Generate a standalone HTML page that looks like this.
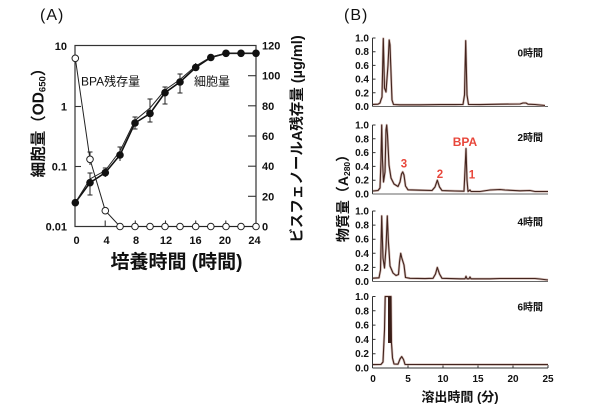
<!DOCTYPE html>
<html>
<head>
<meta charset="utf-8">
<style>
  html, body { margin:0; padding:0; background:#fff; }
  body { width:610px; height:410px; overflow:hidden; }
  svg { display:block; }
  text { font-family: "Liberation Sans", "Noto Sans CJK JP", sans-serif; fill:#111; }
  .tk { font-size:11px; font-weight:bold; }
  .tkb { font-size:10px; font-weight:bold; }
</style>
</head>
<body>
<svg width="610" height="410" viewBox="0 0 610 410" xmlns="http://www.w3.org/2000/svg">
  <rect x="0" y="0" width="610" height="410" fill="#fff"/>

  <!-- ================= Panel A ================= -->
  <text x="40" y="20" font-size="16" letter-spacing="1">(A)</text>

  <rect x="75" y="45.5" width="181" height="181" fill="none" stroke="#333" stroke-width="1.2"/>

  <g stroke="#333" stroke-width="1.1">
    <line x1="75" y1="106.5" x2="81" y2="106.5"/>
    <line x1="75" y1="166.5" x2="81" y2="166.5"/>
    <line x1="256" y1="196.3" x2="248" y2="196.3"/>
    <line x1="256" y1="166.2" x2="248" y2="166.2"/>
    <line x1="256" y1="136" x2="248" y2="136"/>
    <line x1="256" y1="105.8" x2="248" y2="105.8"/>
    <line x1="256" y1="75.7" x2="248" y2="75.7"/>
    <line x1="105.2" y1="226.5" x2="105.2" y2="220.5"/>
    <line x1="135.3" y1="226.5" x2="135.3" y2="220.5"/>
    <line x1="165.5" y1="226.5" x2="165.5" y2="220.5"/>
    <line x1="195.7" y1="226.5" x2="195.7" y2="220.5"/>
    <line x1="225.8" y1="226.5" x2="225.8" y2="220.5"/>
  </g>

  <g text-anchor="end">
    <text class="tk" x="67" y="50" text-anchor="end">10</text>
    <text class="tk" x="67" y="110.5" text-anchor="end">1</text>
    <text class="tk" x="67" y="170.5" text-anchor="end">0.1</text>
    <text class="tk" x="67" y="230.5" text-anchor="end">0.01</text>
  </g>
  <g>
    <text class="tk" x="262" y="49.5">120</text>
    <text class="tk" x="262" y="79.7">100</text>
    <text class="tk" x="262" y="109.8">80</text>
    <text class="tk" x="262" y="140">60</text>
    <text class="tk" x="262" y="170.2">40</text>
    <text class="tk" x="262" y="200.3">20</text>
    <text class="tk" x="262" y="230.5">0</text>
  </g>
  <g>
    <text class="tk" x="76.5" y="244" text-anchor="middle">0</text>
    <text class="tk" x="106.5" y="244" text-anchor="middle">4</text>
    <text class="tk" x="136" y="244" text-anchor="middle">8</text>
    <text class="tk" x="166" y="244" text-anchor="middle">12</text>
    <text class="tk" x="195.5" y="244" text-anchor="middle">16</text>
    <text class="tk" x="225" y="244" text-anchor="middle">20</text>
    <text class="tk" x="254.5" y="244" text-anchor="middle">24</text>
  </g>

  <text x="176.5" y="268" font-size="19" font-weight="bold" text-anchor="middle">培養時間 (時間)</text>
  <text transform="rotate(-90 38 119)" x="38" y="124.5" font-size="15.5" font-weight="bold" text-anchor="middle">細胞量（OD<tspan font-size="9.5" dy="2">650</tspan><tspan dy="-2">）</tspan></text>
  <text transform="rotate(-90 297 139)" x="297" y="144" font-size="14.5" font-weight="bold" text-anchor="middle">ビスフェノールA残存量 (µg/ml)</text>

  <text x="81" y="85.5" font-size="12">BPA残存量</text>
  <text x="194" y="85.5" font-size="12">細胞量</text>

  <polyline fill="none" stroke="#111" stroke-width="1.6" points="75.3,202.7 90,182.7 105.3,172.7 120,155 135,123 150,113.5 165,92.7 180,82 195.7,67.5 210.8,57.5 226,53.3 241,53.3 256,53.3"/>
  <polyline fill="none" stroke="#222" stroke-width="1" points="75.3,202.7 90,179 105.3,170.5 120,151 135,120.5 150,108 165,90 180,79.5 195.7,66 210.8,57 226,53.3 241,53.3 256,53.3"/>

  <g stroke="#222" stroke-width="1">
    <line x1="90" y1="173" x2="90" y2="195"/><line x1="87.5" y1="173" x2="92.5" y2="173"/><line x1="87.5" y1="195" x2="92.5" y2="195"/>
    <line x1="105.3" y1="168" x2="105.3" y2="177"/><line x1="102.8" y1="168" x2="107.8" y2="168"/>
    <line x1="120" y1="147" x2="120" y2="161"/><line x1="117.5" y1="147" x2="122.5" y2="147"/>
    <line x1="135" y1="117" x2="135" y2="129"/><line x1="132.5" y1="117" x2="137.5" y2="117"/><line x1="132.5" y1="129" x2="137.5" y2="129"/>
    <line x1="150" y1="99" x2="150" y2="122"/><line x1="147.5" y1="99" x2="152.5" y2="99"/><line x1="147.5" y1="122" x2="152.5" y2="122"/>
    <line x1="165" y1="87" x2="165" y2="104"/><line x1="162.5" y1="87" x2="167.5" y2="87"/><line x1="162.5" y1="104" x2="167.5" y2="104"/>
    <line x1="180" y1="74" x2="180" y2="93"/><line x1="177.5" y1="74" x2="182.5" y2="74"/><line x1="177.5" y1="93" x2="182.5" y2="93"/>
    <line x1="195.7" y1="63" x2="195.7" y2="71"/>
    <line x1="90" y1="152" x2="90" y2="165"/><line x1="87.5" y1="152" x2="92.5" y2="152"/>
  </g>

  <g fill="#111">
    <circle cx="75.3" cy="202.7" r="3.8"/>
    <circle cx="90" cy="182.7" r="3.8"/>
    <circle cx="105.3" cy="172.7" r="3.8"/>
    <circle cx="120" cy="155" r="3.8"/>
    <circle cx="135" cy="123" r="3.8"/>
    <circle cx="150" cy="113.5" r="3.8"/>
    <circle cx="165" cy="92.7" r="3.8"/>
    <circle cx="180" cy="82" r="3.8"/>
    <circle cx="195.7" cy="67.5" r="3.8"/>
    <circle cx="210.8" cy="57.5" r="3.8"/>
    <circle cx="226" cy="53.3" r="3.8"/>
    <circle cx="241" cy="53.3" r="3.8"/>
    <circle cx="256" cy="53.3" r="3.8"/>
  </g>

  <polyline fill="none" stroke="#222" stroke-width="1" points="75.3,58.3 90,159.3 105.3,210.7 120,226.5 256,226.5"/>
  <g fill="#fff" stroke="#222" stroke-width="1">
    <circle cx="75.3" cy="58.3" r="3.3"/>
    <circle cx="90" cy="159.3" r="3.3"/>
    <circle cx="105.3" cy="210.7" r="3.3"/>
    <circle cx="120" cy="226.5" r="3.3"/>
    <circle cx="135" cy="226.5" r="3.3"/>
    <circle cx="150" cy="226.5" r="3.3"/>
    <circle cx="165" cy="226.5" r="3.3"/>
    <circle cx="180" cy="226.5" r="3.3"/>
    <circle cx="195.7" cy="226.5" r="3.3"/>
    <circle cx="210.8" cy="226.5" r="3.3"/>
    <circle cx="226" cy="226.5" r="3.3"/>
    <circle cx="241" cy="226.5" r="3.3"/>
    <circle cx="256" cy="226.5" r="3.3"/>
  </g>

  <!-- ================= Panel B ================= -->
  <text x="344" y="20" font-size="16" letter-spacing="1">(B)</text>

  <g stroke="#333" stroke-width="1">
    <line x1="372.5" y1="38" x2="372.5" y2="106.5"/>
    <line x1="372.5" y1="106.5" x2="548" y2="106.5" stroke="#666"/>
    <line x1="372.5" y1="125" x2="372.5" y2="194"/>
    <line x1="372.5" y1="194" x2="548" y2="194" stroke="#666"/>
    <line x1="372.5" y1="211" x2="372.5" y2="281.5"/>
    <line x1="372.5" y1="281.5" x2="548" y2="281.5" stroke="#666"/>
    <line x1="372.5" y1="296.5" x2="372.5" y2="368"/>
    <line x1="372.5" y1="368" x2="548" y2="368"/>
  </g>
  <g stroke="#333" stroke-width="1">
    <path d="M372.5 38h3M372.5 51.7h3M372.5 65.4h3M372.5 79.1h3M372.5 92.8h3"/>
    <path d="M372.5 125h3M372.5 138.8h3M372.5 152.6h3M372.5 166.4h3M372.5 180.2h3"/>
    <path d="M372.5 211h3M372.5 225.1h3M372.5 239.2h3M372.5 253.3h3M372.5 267.4h3"/>
    <path d="M372.5 296.5h3M372.5 310.8h3M372.5 325.1h3M372.5 339.4h3M372.5 353.7h3"/>
    <path d="M408 368v-3M443 368v-3M478 368v-3M513 368v-3M548 368v-3"/>
  </g>

  <g>
    <text class="tkb" x="369" y="41.5" text-anchor="end">1.0</text>
    <text class="tkb" x="369" y="55.2" text-anchor="end">0.8</text>
    <text class="tkb" x="369" y="68.9" text-anchor="end">0.6</text>
    <text class="tkb" x="369" y="82.6" text-anchor="end">0.4</text>
    <text class="tkb" x="369" y="96.3" text-anchor="end">0.2</text>
    <text class="tkb" x="369" y="110" text-anchor="end">0.0</text>

    <text class="tkb" x="369" y="128.5" text-anchor="end">1.0</text>
    <text class="tkb" x="369" y="142.3" text-anchor="end">0.8</text>
    <text class="tkb" x="369" y="156.1" text-anchor="end">0.6</text>
    <text class="tkb" x="369" y="169.9" text-anchor="end">0.4</text>
    <text class="tkb" x="369" y="183.7" text-anchor="end">0.2</text>
    <text class="tkb" x="369" y="197.5" text-anchor="end">0.0</text>

    <text class="tkb" x="369" y="214.5" text-anchor="end">1.0</text>
    <text class="tkb" x="369" y="228.6" text-anchor="end">0.8</text>
    <text class="tkb" x="369" y="242.7" text-anchor="end">0.6</text>
    <text class="tkb" x="369" y="256.8" text-anchor="end">0.4</text>
    <text class="tkb" x="369" y="270.9" text-anchor="end">0.2</text>
    <text class="tkb" x="369" y="285" text-anchor="end">0.0</text>

    <text class="tkb" x="369" y="300" text-anchor="end">1.0</text>
    <text class="tkb" x="369" y="314.3" text-anchor="end">0.8</text>
    <text class="tkb" x="369" y="328.6" text-anchor="end">0.6</text>
    <text class="tkb" x="369" y="342.9" text-anchor="end">0.4</text>
    <text class="tkb" x="369" y="357.2" text-anchor="end">0.2</text>
    <text class="tkb" x="369" y="371.5" text-anchor="end">0.0</text>
  </g>
  <g>
    <text class="tkb" x="373" y="382" text-anchor="middle">0</text>
    <text class="tkb" x="408" y="382" text-anchor="middle">5</text>
    <text class="tkb" x="443" y="382" text-anchor="middle">10</text>
    <text class="tkb" x="478" y="382" text-anchor="middle">15</text>
    <text class="tkb" x="513" y="382" text-anchor="middle">20</text>
    <text class="tkb" x="548" y="382" text-anchor="middle">25</text>
  </g>

  <text x="460" y="401.5" font-size="13" font-weight="bold" text-anchor="middle">溶出時間 (分)</text>
  <text transform="rotate(-90 343 195)" x="343" y="200" font-size="14" font-weight="bold" text-anchor="middle">物質量（A<tspan font-size="8.5" dy="2">280</tspan><tspan dy="-2">）</tspan></text>

  <text x="543" y="56.5" text-anchor="end" font-size="10" font-weight="bold">0時間</text>
  <text x="543" y="141" text-anchor="end" font-size="10" font-weight="bold">2時間</text>
  <text x="543" y="225.5" text-anchor="end" font-size="10" font-weight="bold">4時間</text>
  <text x="543" y="310.5" text-anchor="end" font-size="10" font-weight="bold">6時間</text>

  <text x="465" y="146" font-size="12" font-weight="bold" text-anchor="middle" style="fill:#e8473b">BPA</text>
  <text x="404" y="167.5" font-size="11.5" font-weight="bold" text-anchor="middle" style="fill:#e8473b">3</text>
  <text x="440" y="178" font-size="11.5" font-weight="bold" text-anchor="middle" style="fill:#e8473b">2</text>
  <text x="472" y="178.5" font-size="11.5" font-weight="bold" text-anchor="middle" style="fill:#e8473b">1</text>

  <g fill="none" stroke="#c4a49c" stroke-width="2.4" stroke-linejoin="round" opacity="0.7">
    <polyline points="373,104.4 378,104.2 380,103 381,99.7 382,97 383.3,38.5 384.5,88 386,92 388,65 389.2,40 390,45 392,100 393.5,104.5 400,104.8 420,104.8 440,104.6 455,104.6 463,104.4 464.5,95 465.7,40.7 467,95 468.5,104.4 480,104.6 500,104.2 520,104 523,103 526,103 528,104.2 535,104.5 545,105.5"/>
    <polyline points="373,191 378,190.5 380,188 381,160 381.7,125 382.5,160 383.5,182 385,172 386,130 386.7,125 387.5,135 389,165 391,178 394,184 398,186.5 400,182 401.5,174 402.7,171.9 404,175 405.5,186 408,189.8 420,190.2 432,190.5 435,187 437.3,180.2 439.5,187 442,190.6 455,191 464,191.2 465,170 466,148.5 467,180 468,191.5 470,190 471,191.5 480,191.5 490,190 500,189.5 505,190 520,190.8 530,190.5 535,191.5 548,191.5"/>
    <polyline points="373,278.2 379,277.8 380.5,270 381.7,215.9 383,258 384.5,268 386,248 387.3,215.9 388.3,240 390,266 393,273 396,275.5 398.5,274.5 399.5,262 400.7,253.3 401.8,258 403,261.8 404,265 405.5,277.5 410,278.3 425,278.6 433,278.3 435.5,274 437.3,267.4 439.5,274 442,278.3 460,278.8 465,278.8 466,276.3 467,278.8 469,278.8 470,277 471,278.8 490,278.8 500,278.5 520,278.5 535,278.5 540,279 548,280"/>
    <polyline points="373,364.6 381,364.4 383,362 384.5,330 385.2,296.5 391,296.5 391.5,343 392.5,358 394,364 398,364.2 400,359 401.7,356.6 403.5,359.5 405,364.4 548,364.6"/>
  </g>
  <g fill="none" stroke="#43241e" stroke-width="1.1" stroke-linejoin="round">
    <polyline points="373,104.4 378,104.2 380,103 381,99.7 382,97 383.3,38.5 384.5,88 386,92 388,65 389.2,40 390,45 392,100 393.5,104.5 400,104.8 420,104.8 440,104.6 455,104.6 463,104.4 464.5,95 465.7,40.7 467,95 468.5,104.4 480,104.6 500,104.2 520,104 523,103 526,103 528,104.2 535,104.5 545,105.5"/>
    <polyline points="373,191 378,190.5 380,188 381,160 381.7,125 382.5,160 383.5,182 385,172 386,130 386.7,125 387.5,135 389,165 391,178 394,184 398,186.5 400,182 401.5,174 402.7,171.9 404,175 405.5,186 408,189.8 420,190.2 432,190.5 435,187 437.3,180.2 439.5,187 442,190.6 455,191 464,191.2 465,170 466,148.5 467,180 468,191.5 470,190 471,191.5 480,191.5 490,190 500,189.5 505,190 520,190.8 530,190.5 535,191.5 548,191.5"/>
    <polyline points="373,278.2 379,277.8 380.5,270 381.7,215.9 383,258 384.5,268 386,248 387.3,215.9 388.3,240 390,266 393,273 396,275.5 398.5,274.5 399.5,262 400.7,253.3 401.8,258 403,261.8 404,265 405.5,277.5 410,278.3 425,278.6 433,278.3 435.5,274 437.3,267.4 439.5,274 442,278.3 460,278.8 465,278.8 466,276.3 467,278.8 469,278.8 470,277 471,278.8 490,278.8 500,278.5 520,278.5 535,278.5 540,279 548,280"/>
    <polyline points="373,364.6 381,364.4 383,362 384.5,330 385.2,296.5 391,296.5 391.5,343 392.5,358 394,364 398,364.2 400,359 401.7,356.6 403.5,359.5 405,364.4 548,364.6"/>
  </g>
  <rect x="388" y="296.5" width="3" height="46.5" fill="#3a1e18"/>
</svg>
</body>
</html>
